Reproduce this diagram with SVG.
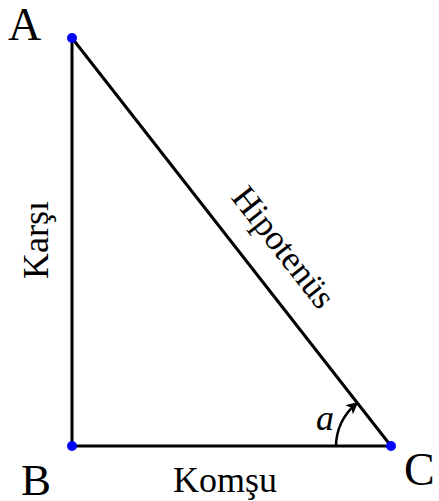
<svg xmlns="http://www.w3.org/2000/svg" width="439" height="501" viewBox="0 0 439 501">
<style>
.lbl{font-family:"Liberation Serif","Times New Roman",serif;fill:#000}
.side{stroke:#000;stroke-width:3;fill:none;stroke-linecap:round}
.pt{fill:#0000ff}
</style>
<defs>
<marker id="arr" markerWidth="12" markerHeight="12" refX="9" refY="6" orient="auto" markerUnits="userSpaceOnUse">
<path d="M0,0 L12,6 L0,12 L3,6 Z" fill="#000"/>
</marker>
</defs>
<rect width="439" height="501" fill="#fff"/>
<g id="connectors">
<line class="side" x1="72" y1="38" x2="72" y2="446"/>
<line class="side" x1="72" y1="446" x2="391" y2="446"/>
<line class="side" x1="72" y1="38" x2="391" y2="446"/>
<path d="M336,446 A55,55 0 0 1 356,404" stroke="#000" stroke-width="2.5" fill="none" marker-end="url(#arr)"/>
</g>
<g id="A"><circle class="pt" cx="72" cy="38" r="5"/><text class="lbl" x="8" y="40" font-size="46">A</text></g>
<g id="B"><circle class="pt" cx="72" cy="446" r="5"/><text class="lbl" x="21" y="495" font-size="45">B</text></g>
<g id="C"><circle class="pt" cx="391" cy="446" r="5"/><text class="lbl" x="404" y="485" font-size="46">C</text></g>
<g id="karsi"><text class="lbl" font-size="36" text-anchor="middle" transform="translate(48,240) rotate(-90)">Karşı</text></g>
<g id="komsu"><text class="lbl" x="225" y="492" font-size="36" text-anchor="middle">Komşu</text></g>
<g id="hipotenus"><text class="lbl" font-size="35" text-anchor="middle" transform="translate(284,247) rotate(52)" y="12">Hipotenüs</text></g>
<g id="angle"><text class="lbl" x="316" y="430" font-size="36" font-style="italic">a</text></g>
</svg>
